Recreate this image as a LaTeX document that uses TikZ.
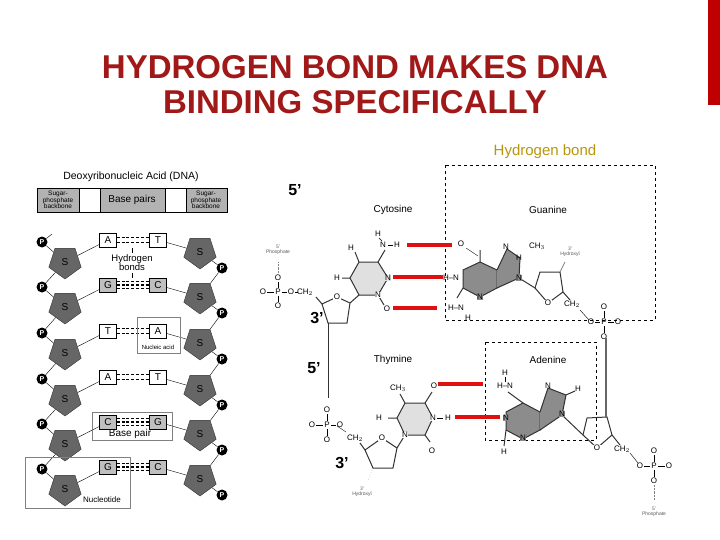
\documentclass[tikz,border=0pt]{standalone}
\usepackage{fontspec}
\setmainfont{Liberation Sans}
\usetikzlibrary{shapes.geometric,calc,backgrounds}
\definecolor{ttl}{HTML}{A01818}
\definecolor{gold}{HTML}{B8960C}
\definecolor{hb}{HTML}{E01010}
\begin{document}
\begin{tikzpicture}[x=1pt,y=-1pt,
 atom/.style={inner sep=0.5pt,font=\fontsize{8}{8}\selectfont},
 tiny/.style={inner sep=0pt,font=\fontsize{5}{5}\selectfont,gray!70!black,align=center},
 bond/.style={line width=1pt,black!80},
 hbond/.style={line width=4.5pt,hb},
 sugar/.style={regular polygon,regular polygon sides=5,shape border rotate=180,fill=black!60,draw=black!80,minimum size=34pt,inner sep=0pt,font=\fontsize{10}{10}\selectfont},
 pp/.style={circle,fill=black,text=white,inner sep=0pt,minimum size=11pt,font=\bfseries\fontsize{7}{7}\selectfont},
 base/.style={draw,minimum width=17pt,minimum height=14pt,inner sep=0pt,font=\fontsize{10}{10}\selectfont},
 lbl/.style={font=\fontsize{10}{10}\selectfont,inner sep=1pt},
 prime/.style={font=\rmfamily\bfseries\fontsize{16}{16}\selectfont,inner sep=0pt},
 dbox/.style={dashed,black,line width=0.8pt},
 hd/.style={dash pattern=on 3pt off 1.8pt}]
\useasboundingbox (0,0) rectangle (720,540);
\fill[red!75!black] (708,0) rectangle (720,105);
\node[ttl,font=\bfseries\fontsize{33}{35}\selectfont,align=center] (title) at (355,85) {HYDROGEN BOND MAKES DNA\\BINDING SPECIFICALLY};
\node[gold,font=\fontsize{15}{15}\selectfont] (hbl) at (545,152) {Hydrogen bond};
% dashed boxes
\draw[dbox] (445,165) rectangle (655,320);
\draw[dbox] (485,342) rectangle (596,440);
% ---- left panel
\node[lbl,font=\fontsize{10.5}{10.5}\selectfont] (dnat) at (131,177) {Deoxyribonucleic Acid (DNA)};
\draw[fill=black!30] (37,188) rectangle (79,212);
\draw[fill=white] (79,188) rectangle (100,212);
\draw[fill=black!30] (100,188) rectangle (165,212);
\draw[fill=white] (165,188) rectangle (186,212);
\draw[fill=black!30] (186,188) rectangle (227,212);
\node[align=center,font=\fontsize{6.5}{6.5}\selectfont] (sp1) at (58,200) {Sugar-\\phosphate\\backbone};
\node[align=center,font=\fontsize{6.5}{6.5}\selectfont] (sp2) at (206,200) {Sugar-\\phosphate\\backbone};
\node[lbl] (bp) at (132,200) {Base pairs};
\foreach \y/\l/\r/\lf/\rf/\n [count=\i] in {240/A/T/white/white/2,285/G/C/black!25/black!25/3,331/T/A/white/white/2,377/A/T/white/white/2,422/C/G/black!25/black!25/3,467/G/C/black!25/black!25/3}{
  \node[pp] (lp\i) at (42,\y+2) {P};
  \node[sugar] (ls\i) at (65,\y+22) {S};
  \node[sugar] (rs\i) at (200,\y+12) {S};
  \node[pp] (rp\i) at (222,\y+28) {P};
  \node[base,fill=\lf] (lb\i) at (108,\y) {\l};
  \node[base,fill=\rf] (rb\i) at (158,\y) {\r};
  \begin{scope}[on background layer]
  \draw (lp\i) -- (ls\i);
  \draw (ls\i) -- (lb\i);
  \draw (rb\i) -- (rs\i);
  \draw (rs\i) -- (rp\i);
  \end{scope}
  \ifnum\n=2
   \draw[line width=1.6pt,hd] ($(lb\i.east)+(0,-2.5)$) -- ($(rb\i.west)+(0,-2.5)$);
   \draw[line width=1.6pt,hd] ($(lb\i.east)+(0,2.5)$) -- ($(rb\i.west)+(0,2.5)$);
  \else
   \draw[line width=1.3pt,hd] ($(lb\i.east)+(0,-3.5)$) -- ($(rb\i.west)+(0,-3.5)$);
   \draw[line width=1.3pt,hd] (lb\i.east) -- (rb\i.west);
   \draw[line width=1.3pt,hd] ($(lb\i.east)+(0,3.5)$) -- ($(rb\i.west)+(0,3.5)$);
  \fi
}
\begin{scope}[on background layer]
\foreach \i/\j in {1/2,2/3,3/4,4/5,5/6}{
  \draw (ls\i) -- (lp\j);
  \draw (rp\i) -- (rs\j);
}
\draw (lp1) -- (52,234);
\end{scope}
\node[lbl,fill=white,align=center,inner sep=0pt,font=\fontsize{9.5}{9}\selectfont] (hbs) at (132,263) {Hydrogen\\bonds};
\draw (132,248) -- (132,253) (132,273) -- (132,278);
\draw[gray] (137,317) rectangle (180,353);
\node[font=\fontsize{6}{6}\selectfont] (na) at (158,347) {Nucleic acid};
\draw[gray] (92,412) rectangle (172,440);
\node[lbl] (bpl) at (130,434) {Base pair};
\draw[gray] (25,457) rectangle (130,508);
\node[font=\fontsize{8}{8}\selectfont] (nuc) at (102,500) {Nucleotide};
% ---- right: primes
\node[prime] (p5a) at (295,190) {5’};
\node[prime] (p3a) at (317,318) {3’};
\node[prime] (p5b) at (314,368) {5’};
\node[prime] (p3b) at (342,463) {3’};
\node[lbl] (cyt) at (393,210) {Cytosine};
\node[lbl] (gua) at (548,210) {Guanine};
\node[lbl] (thy) at (393,360) {Thymine};
\node[lbl] (ade) at (548,360) {Adenine};
% cytosine
\draw[bond,fill=black!12] (388,278) -- (378,262) -- (359,262) -- (350,278) -- (359,295) -- (378,295) -- cycle;
\draw[bond] (378,262) -- (385,250) (359,262) -- (355,252) (350,278) -- (342,278) (378,295) -- (384,305) (359,295) -- (350,303);
\node[atom] at (383,245) {N};\node[atom] at (397,245) {H};\draw (388,245)--(393,245);
\node[atom] at (378,234) {H};\draw (379,238)--(382,241);
\node[atom] at (351,248) {H};\node[atom] at (337,278) {H};
\node[atom,fill=black!12] at (388,278) {N};\node[atom,fill=white] at (378,295) {N};
\node[atom] at (387,309) {O};
% cytosine sugar + phosphate
\draw[bond] (350,303) -- (337,297) -- (322,304) -- (328,323) -- (347,323) -- cycle;
\node[atom,fill=white] at (337,297) {O};
\draw[bond] (322,304) -- (316,297);
\node[atom] at (305,292) {CH$_2$};
\node[atom] at (263,292) {O};\node[atom] at (278,292) {P};\node[atom] at (291,292) {O};
\draw (267,292)--(274,292) (282,292)--(287,292) (295,292)--(298,292);
\node[atom] at (278,278) {O};\node[atom] at (278,306) {O};
\draw (278,282)--(278,288) (278,296)--(278,302);
\draw[densely dotted,gray] (278,274)--(278,262);
\node[tiny] at (278,250) {5'\\Phosphate};
\draw[bond] (328,323) -- (328,398);
% guanine
\draw[bond,fill=black!45] (480,262) -- (497,270) -- (497,288) -- (480,297) -- (463,288) -- (463,270) -- cycle;
\draw[bond,fill=black!45] (497,270) -- (507,249) -- (520,258) -- (519,278) -- (497,288);
\draw[bond] (480,262) -- (480,250) (463,288) -- (457,298) (519,278) -- (535,288);
\node[atom] at (461,244) {O};\draw (466,248)--(478,256);
\node[atom] at (451,278) {H–N};
\node[atom] at (456,308) {H–N};\node[atom] at (468,318) {H};
\node[atom,fill=black!45] at (480,297) {N};\node[atom] at (506,247) {N};\node[atom] at (519,258) {H};
\node[atom] at (537,246) {CH$_3$};\node[atom,fill=black!45] at (519,278) {N};
\draw[bond] (535,288) -- (548,303) -- (563,292) -- (560,272) -- (540,272) -- cycle;
\node[atom,fill=white] at (548,303) {O};
\draw[gray,line width=0.8pt] (560,272) -- (565,262);
\node[tiny] at (570,252) {3'\\Hydroxyl};
\draw[bond] (563,292) -- (570,300);
\node[atom] at (572,304) {CH$_2$};
\draw (580,310)--(589,320);
\node[atom] at (591,322) {O};\node[atom] at (604,322) {P};\node[atom] at (618,322) {O};
\draw (595,322)--(600,322) (608,322)--(614,322);
\node[atom] at (604,307) {O};\node[atom] at (604,337) {O};
\draw (604,311)--(604,318) (604,326)--(604,333);
% red hydrogen bonds, top
\draw[hbond] (407,245) -- (452,245);
\draw[hbond] (393,277) -- (443,277);
\draw[hbond] (393,308) -- (437,308);
% thymine
\draw[bond,fill=black!12] (433,418) -- (425,403) -- (405,403) -- (397,418) -- (405,435) -- (425,435) -- cycle;
\draw[bond] (405,403) -- (400,394) (425,403) -- (432,392) (397,418) -- (388,418) (425,435) -- (430,442) (405,435) -- (397,448);
\node[atom] at (398,388) {CH$_3$};\node[atom] at (434,386) {O};
\node[atom] at (379,418) {H};\node[atom,fill=white] at (433,418) {N};
\node[atom] at (448,418) {H};\draw (437,418)--(443,418);
\node[atom,fill=white] at (405,435) {N};\node[atom] at (432,451) {O};
% thymine sugar + phosphate
\draw[bond] (397,448) -- (382,438) -- (365,450) -- (373,468) -- (393,468) -- cycle;
\node[atom,fill=white] at (382,438) {O};
\draw[bond] (365,450) -- (360,443);
\node[atom] at (355,438) {CH$_2$};
\draw (346,432)--(337,426);
\node[atom] at (312,425) {O};\node[atom] at (327,425) {P};\node[atom] at (340,425) {O};
\draw (316,425)--(323,425) (331,425)--(336,425);
\node[atom] at (327,410) {O};\node[atom] at (327,440) {O};
\draw (327,414)--(327,421) (327,429)--(327,436);
\draw[dotted,gray] (373,468) -- (368,480);
\node[tiny] at (362,492) {3'\\Hydroxyl};
% adenine
\draw[bond,fill=black!45] (523,403) -- (540,412) -- (540,430) -- (523,439) -- (506,430) -- (506,412) -- cycle;
\draw[bond,fill=black!45] (540,412) -- (548,388) -- (566,395) -- (562,415) -- (540,430);
\draw[bond] (523,403) -- (508,392) (506,430) -- (504,446) (562,415) -- (583,435) (566,395) -- (575,391);
\node[atom] at (505,386) {H–N};\node[atom] at (505,373) {H};\draw (505,377)--(505,382);
\node[atom,fill=black!45] at (506,418) {N};\node[atom,fill=black!45] at (523,438) {N};
\node[atom] at (548,386) {N};\node[atom] at (578,389) {H};\node[atom,fill=black!45] at (562,414) {N};
\node[atom] at (504,452) {H};
\draw[bond] (583,435) -- (597,448) -- (612,435) -- (607,417) -- (587,418) -- cycle;
\node[atom,fill=white] at (597,448) {O};
\draw[bond,line width=1.5pt,black!60] (606,338) -- (606,417);
\draw[bond] (612,435) -- (620,445);
\node[atom] at (622,449) {CH$_2$};
\draw (630,453)--(638,463);
\node[atom] at (640,466) {O};\node[atom] at (654,466) {P};\node[atom] at (669,466) {O};
\draw (644,466)--(650,466) (658,466)--(665,466);
\node[atom] at (654,451) {O};\node[atom] at (654,481) {O};
\draw (654,455)--(654,462) (654,470)--(654,477);
\draw[densely dotted,gray] (654,485)--(654,500);
\node[tiny] at (654,512) {5'\\Phosphate};
% red hydrogen bonds, bottom
\draw[hbond] (438,384) -- (483,384);
\draw[hbond] (455,417) -- (500,417);
\end{tikzpicture}
\end{document}
